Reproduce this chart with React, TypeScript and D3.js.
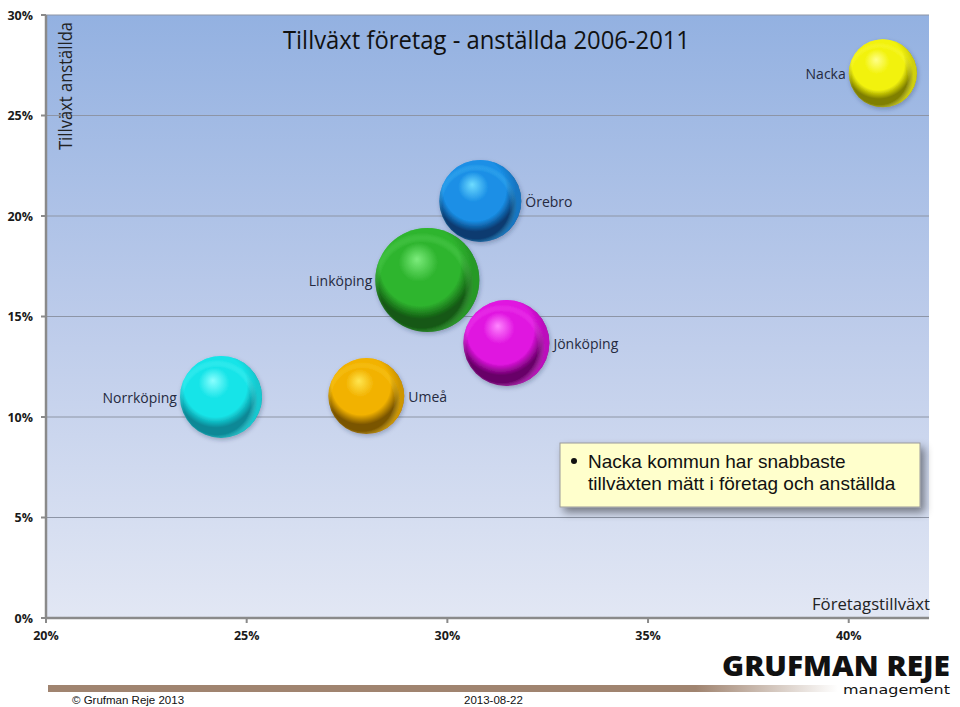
import React from "react";
import * as d3 from "d3";

const cities = ["Nacka", "Örebro", "Linköping", "Jönköping", "Norrköping", "Umeå"];
const companyGrowth = [40.85, 30.82, 29.5, 31.47, 24.36, 27.98];
const employeeGrowth = [27.1, 20.75, 16.82, 13.68, 11.0, 11.04];
const bubbleSize = [1160, 1680, 2700, 1850, 1680, 1440];
const labelSide = ["left", "right", "left", "right", "left", "right"];
const baseColors = ["#f2f20a", "#1a8fe6", "#2fb52f", "#e014e0", "#18e4e8", "#f2b200"];
const lightColors = ["#ffff8a", "#6edcff", "#7cec7c", "#ff86ff", "#8affff", "#ffe650"];
const darkColors = ["#7f7f00", "#083a70", "#125812", "#680068", "#078896", "#7a5400"];

const xTicks = [20, 25, 30, 35, 40];
const yTicks = [0, 5, 10, 15, 20, 25, 30];

const title = "Tillväxt företag - anställda 2006-2011";
const yTitle = "Tillväxt anställda";
const xTitle = "Företagstillväxt";
const calloutLines = ["Nacka kommun har snabbaste", "tillväxten mätt i företag och anställda"];
const footerLeft = "© Grufman Reje 2013";
const footerDate = "2013-08-22";

export default function App() {
  const W = 960, H = 707;
  const x = d3.scaleLinear().domain([20, 42]).range([46, 929]);
  const y = d3.scaleLinear().domain([0, 30]).range([618, 15]);
  const r = d3.scaleSqrt().domain([0, d3.max(bubbleSize) as number]).range([0, 52]);
  const font = "'Open Sans', Lato, sans-serif";
  const [x0, x1] = x.range();
  const [y0, y1] = y.range();

  return (
    <svg width={W} height={H} style={{ position: "absolute", left: 0, top: 0, background: "#fff" }}>
      <defs>
        <linearGradient id="bg" x1="0" y1="0" x2="0" y2="1">
          <stop offset="0" stopColor="#93b1e1" />
          <stop offset="0.5" stopColor="#bccbea" />
          <stop offset="1" stopColor="#e2e7f4" />
        </linearGradient>
        <linearGradient id="footbar" x1="0" y1="0" x2="1" y2="0">
          <stop offset="0" stopColor="#a08470" />
          <stop offset="0.82" stopColor="#a08470" />
          <stop offset="1" stopColor="#a08470" stopOpacity="0" />
        </linearGradient>
        {cities.map((c, i) => (
          <radialGradient key={c} id={`sph${i}`} cx="0.45" cy="0.4" r="0.62" fx="0.4" fy="0.3">
            <stop offset="0" stopColor={lightColors[i]} />
            <stop offset="0.3" stopColor={baseColors[i]} />
            <stop offset="0.62" stopColor={baseColors[i]} />
            <stop offset="0.8" stopColor={darkColors[i]} />
            <stop offset="1" stopColor={darkColors[i]} />
          </radialGradient>
        ))}
        {cities.map((c, i) => (
          <radialGradient key={c + "b"} id={`rim${i}`} cx="0.45" cy="0.55" r="0.5">
            <stop offset="0" stopColor={lightColors[i]} stopOpacity="0" />
            <stop offset="0.82" stopColor={lightColors[i]} stopOpacity="0" />
            <stop offset="1" stopColor={baseColors[i]} stopOpacity="0.7" />
          </radialGradient>
        ))}
        <filter id="shadow" x="-10%" y="-10%" width="130%" height="150%">
          <feDropShadow dx="4" dy="5" stdDeviation="4" floodColor="#000" floodOpacity="0.45" />
        </filter>
        <filter id="bshadow" x="-20%" y="-20%" width="150%" height="150%">
          <feDropShadow dx="1" dy="2" stdDeviation="2" floodColor="#203050" floodOpacity="0.3" />
        </filter>
        <clipPath id="plotClip">
          <rect x={x0} y={y1} width={x1 - x0} height={y0 - y1} />
        </clipPath>
      </defs>

      <rect x={x0} y={y1} width={x1 - x0} height={y0 - y1} fill="url(#bg)" />

      {yTicks.filter((t) => t > 0).map((t) => (
        <line key={t} x1={x0} x2={x1} y1={y(t)} y2={y(t)} stroke="#8d95a6" strokeWidth={1.2} />
      ))}

      <line x1={x0} x2={x0} y1={y1} y2={y0} stroke="#8a8a8a" strokeWidth={2.5} />
      <line x1={x0} x2={x1} y1={y0} y2={y0} stroke="#8a8a8a" strokeWidth={2.5} />
      {yTicks.map((t) => (
        <line key={t} x1={x0 - 5} x2={x0} y1={y(t)} y2={y(t)} stroke="#8a8a8a" strokeWidth={2} />
      ))}
      {xTicks.map((t) => (
        <line key={t} x1={x(t)} x2={x(t)} y1={y0} y2={y0 + 5} stroke="#8a8a8a" strokeWidth={2} />
      ))}

      {yTicks.map((t) => (
        <text key={t} x={33} y={y(t) + 4.5} textAnchor="end" fontFamily={font} fontWeight="bold" fontSize={12.5} fill="#1a1a1a">
          {t}%
        </text>
      ))}
      {xTicks.map((t) => (
        <text key={t} x={x(t)} y={640} textAnchor="middle" fontFamily={font} fontWeight="bold" fontSize={12.5} fill="#1a1a1a">
          {t}%
        </text>
      ))}

      <text x={283} y={49} fontFamily={font} fontSize={26} fill="#111" textLength={407} lengthAdjust="spacingAndGlyphs">
        {title}
      </text>
      <text transform="translate(72,150) rotate(-90)" fontFamily={font} fontSize={19} fill="#222" textLength={128} lengthAdjust="spacingAndGlyphs">
        {yTitle}
      </text>
      <text x={930} y={610} textAnchor="end" fontFamily={font} fontSize={17} fill="#222" textLength={118} lengthAdjust="spacingAndGlyphs">
        {xTitle}
      </text>

      <g clipPath="url(#plotClip)">
        {cities.map((c, i) => {
          const cx = x(companyGrowth[i]);
          const cy = y(employeeGrowth[i]);
          const rr = r(bubbleSize[i]);
          return (
            <g key={c} filter="url(#bshadow)">
              <circle cx={cx} cy={cy} r={rr} fill={`url(#sph${i})`} />
              <circle cx={cx} cy={cy} r={rr} fill={`url(#rim${i})`} />
            </g>
          );
        })}
      </g>
      {cities.map((c, i) => {
        const cx = x(companyGrowth[i]);
        const cy = y(employeeGrowth[i]);
        const rr = r(bubbleSize[i]);
        const left = labelSide[i] === "left";
        return (
          <text
            key={c}
            x={left ? cx - rr - 3 : cx + rr + 4}
            y={cy + 6}
            textAnchor={left ? "end" : "start"}
            fontFamily={font}
            fontSize={14}
            fill="#252a40"
          >
            {c}
          </text>
        );
      })}

      <g filter="url(#shadow)">
        <rect x={560} y={443} width={360} height={64} fill="#ffffcc" stroke="#9a9a9a" strokeWidth={1} />
      </g>
      <circle cx={574} cy={461} r={3} fill="#111" />
      {calloutLines.map((l, i) => (
        <text key={i} x={588} y={468 + i * 22} fontFamily="'Liberation Sans', Arial, sans-serif" fontSize={19} fill="#111">
          {l}
        </text>
      ))}

      <rect x={48} y={685} width={790} height={7} fill="url(#footbar)" />
      <text x={72} y={704} fontFamily="'Liberation Sans', Arial, sans-serif" fontSize={11.5} fill="#111">
        {footerLeft}
      </text>
      <text x={464} y={704} fontFamily="'Liberation Sans', Arial, sans-serif" fontSize={11.5} fill="#111">
        {footerDate}
      </text>
      <text x={722} y={676} fontFamily="'Open Sans', sans-serif" fontWeight="800" fontSize={28} fill="#111" textLength={228} lengthAdjust="spacingAndGlyphs">
        GRUFMAN REJE
      </text>
      <text x={843} y={694} fontFamily="'DejaVu Sans', sans-serif" fontSize={12.5} fill="#111" textLength={107} lengthAdjust="spacingAndGlyphs">
        management
      </text>
    </svg>
  );
}
